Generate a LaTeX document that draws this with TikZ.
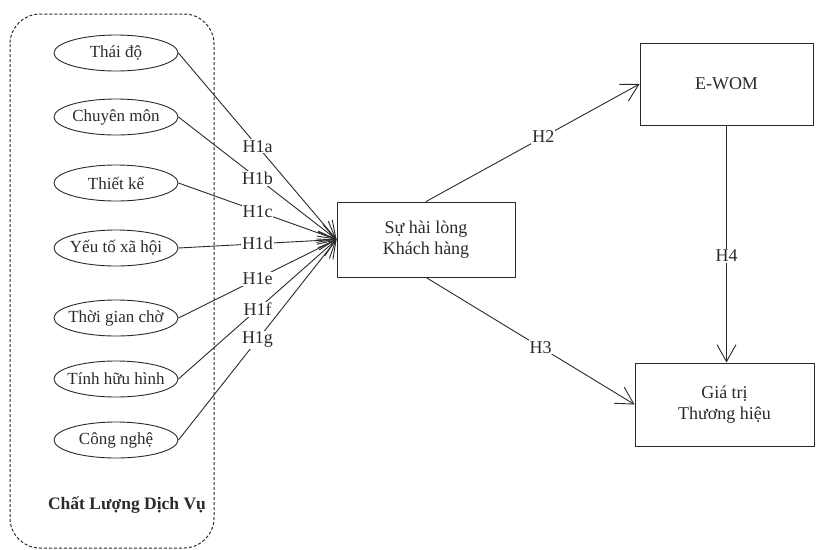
\documentclass[tikz,border=0pt]{standalone}
\usepackage{fontspec}
\setmainfont{Liberation Serif}
\usetikzlibrary{arrows.meta,shapes.geometric}
\definecolor{ink}{HTML}{2A2A2A}
\newcommand{\fxt}[1]{\makebox[0pt]{#1}}
\begin{document}
\begin{tikzpicture}[x=1pt,y=-1pt,
  every node/.style={text=ink, font=\fontsize{18}{21}\selectfont},
  factor/.style={ellipse, draw=ink, line width=0.9pt, minimum width=124pt, minimum height=36pt, inner sep=0pt, font=\fontsize{17}{20}\selectfont},
  constr/.style={rectangle, draw=ink, line width=0.9pt, align=center, inner sep=0pt},
  lbl/.style={fill=white, inner sep=1pt},
  link/.style={draw=ink, line width=0.9pt, -{Straight Barb[length=17pt,width=19pt,line width=0.9pt]}},
  group/.style={draw=ink, dashed, dash pattern=on 3pt off 2pt, line width=1pt, rounded corners=30pt}]
\useasboundingbox (0,0) rectangle (816,549);
\path[group] (10,14) rectangle (214,548);
\node[factor] (f1) at (116,53)  {\fxt{Thái độ}};
\node[factor] (f2) at (116,117) {\fxt{Chuyên môn}};
\node[factor] (f3) at (116,183) {\fxt{Thiết kế}};
\node[factor] (f4) at (116,248) {\fxt{Yếu tố xã hội}};
\node[factor] (f5) at (116,318) {\fxt{Thời gian chờ}};
\node[factor] (f6) at (116,379) {\fxt{Tính hữu hình}};
\node[factor] (f7) at (116,440) {\fxt{Công nghệ}};
\node[font=\fontsize{17.5}{21}\selectfont\bfseries] (grp) at (127,505) {Chất Lượng Dịch Vụ};
\node[constr, minimum width=178pt, minimum height=75pt] (sat) at (426,239.5) {Sự hài lòng\\Khách hàng};
\node[constr, minimum width=173pt, minimum height=82pt] (ewom) at (726.5,84) {E-WOM};
\node[constr, minimum width=179pt, minimum height=83pt] (gtth) at (724.5,404.5) {Giá trị\\Thương hiệu};
\coordinate (t) at (sat.west);
\draw[link] (f1.east) -- node[lbl] {H1a} (t);
\draw[link] (f2.east) -- node[lbl] {H1b} (t);
\draw[link] (f3.east) -- node[lbl] {H1c} (t);
\draw[link] (f4.east) -- node[lbl] {H1d} (t);
\draw[link] (f5.east) -- node[lbl] {H1e} (t);
\draw[link] (f6.east) -- node[lbl] {H1f} (t);
\draw[link] (f7.east) -- node[lbl] {H1g} (t);
\draw[link] (sat.north) -- node[lbl, pos=0.55] {H2} (ewom.west);
\draw[link] (sat.south) -- node[lbl, pos=0.55] {H3} (gtth.west);
\draw[link] (ewom.south) -- node[lbl, pos=0.55] {H4} (ewom.south |- gtth.north);
\end{tikzpicture}
\end{document}
